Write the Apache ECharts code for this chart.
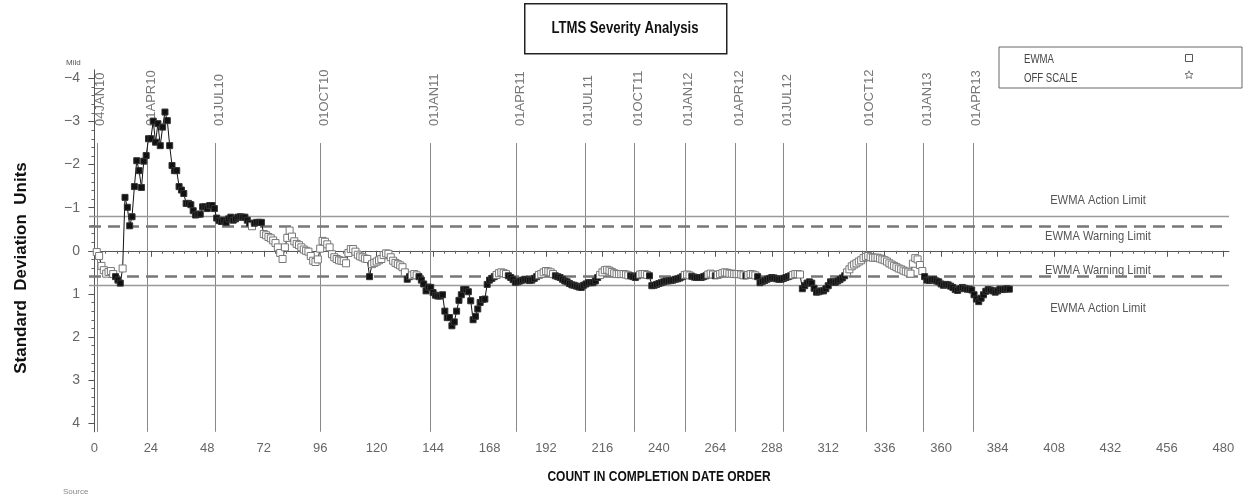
<!DOCTYPE html>
<html>
<head>
<meta charset="utf-8">
<script src="https://cdn.jsdelivr.net/npm/echarts@6/dist/echarts.min.js"></script>
<style>
  html, body { margin: 0; padding: 0; background: #fff; }
  #chart { width: 1246px; height: 495px; }
</style>
</head>
<body>
<div id="chart"></div>
<script>
// EWMA severity (standard deviation units), one value per test, in completion order
const ewma = [
  0.03, 0.12, 0.35, 0.45, 0.53, 0.49, 0.47, 0.54, 0.60, 0.68,
  0.75, 0.41, -1.24, -1.01, -0.58, -0.79, -1.49, -2.09, -1.86, -1.47,
  -2.08, -2.21, -2.60, -2.60, -3.01, -2.52, -2.95, -2.44, -2.87, -3.22,
  -3.02, -2.44, -1.98, -1.86, -1.86, -1.49, -1.41, -1.33, -1.10, -1.10,
  -1.07, -0.93, -0.83, -0.85, -0.85, -1.02, -1.02, -0.98, -1.05, -1.05,
  -0.98, -0.76, -0.70, -0.68, -0.71, -0.66, -0.74, -0.78, -0.71, -0.74,
  -0.78, -0.79, -0.78, -0.78, -0.71, -0.64, -0.57, -0.64, -0.66, -0.66,
  -0.66, -0.39, -0.36, -0.32, -0.29, -0.24, -0.18, -0.08, 0.05, 0.19,
  -0.08, -0.30, -0.47, -0.33, -0.22, -0.16, -0.13, -0.08, -0.03, 0.00,
  0.02, 0.12, 0.23, 0.26, 0.20, -0.05, -0.23, -0.21, -0.15, -0.08,
  0.08, 0.15, 0.19, 0.22, 0.23, 0.24, 0.29, 0.05, -0.04, -0.04,
  0.02, 0.09, 0.13, 0.15, 0.18, 0.19, 0.60, 0.31, 0.28, 0.25,
  0.22, 0.19, 0.10, 0.06, 0.07, 0.15, 0.23, 0.28, 0.31, 0.34,
  0.38, 0.50, 0.66, 0.60, 0.57, 0.54, 0.57, 0.60, 0.68, 0.77,
  0.93, 0.84, 0.85, 0.97, 1.03, 1.05, 1.05, 1.02, 1.40, 1.55,
  1.55, 1.74, 1.65, 1.40, 1.15, 1.02, 0.90, 0.90, 0.95, 1.16,
  1.60, 1.52, 1.35, 1.20, 1.13, 1.12, 0.78, 0.68, 0.64, 0.60,
  0.56, 0.52, 0.50, 0.52, 0.54, 0.58, 0.62, 0.67, 0.73, 0.72,
  0.70, 0.68, 0.66, 0.67, 0.69, 0.68, 0.64, 0.60, 0.56, 0.54,
  0.50, 0.47, 0.48, 0.50, 0.54, 0.58, 0.60, 0.62, 0.66, 0.70,
  0.72, 0.76, 0.79, 0.80, 0.82, 0.84, 0.85, 0.80, 0.77, 0.74,
  0.74, 0.74, 0.70, 0.62, 0.56, 0.50, 0.45, 0.44, 0.46, 0.49,
  0.52, 0.54, 0.54, 0.54, 0.54, 0.55, 0.57, 0.58, 0.60, 0.62,
  0.58, 0.55, 0.54, 0.54, 0.56, 0.58, 0.81, 0.80, 0.78, 0.76,
  0.74, 0.72, 0.70, 0.70, 0.69, 0.68, 0.66, 0.65, 0.63, 0.60,
  0.56, 0.55, 0.57, 0.59, 0.61, 0.62, 0.62, 0.62, 0.60, 0.58,
  0.55, 0.53, 0.55, 0.58, 0.56, 0.54, 0.52, 0.50, 0.51, 0.53,
  0.53, 0.54, 0.54, 0.54, 0.55, 0.57, 0.58, 0.56, 0.54, 0.55,
  0.57, 0.60, 0.74, 0.71, 0.69, 0.66, 0.64, 0.62, 0.63, 0.65,
  0.66, 0.66, 0.64, 0.62, 0.60, 0.58, 0.56, 0.54, 0.54, 0.55,
  0.88, 0.81, 0.75, 0.72, 0.75, 0.87, 0.96, 0.95, 0.93, 0.93,
  0.88, 0.81, 0.72, 0.72, 0.73, 0.70, 0.67, 0.63, 0.58, 0.50,
  0.43, 0.36, 0.32, 0.29, 0.25, 0.22, 0.17, 0.14, 0.12, 0.15,
  0.16, 0.16, 0.16, 0.18, 0.20, 0.22, 0.25, 0.29, 0.32, 0.35,
  0.38, 0.41, 0.43, 0.46, 0.48, 0.50, 0.53, 0.30, 0.17, 0.20,
  0.33, 0.47, 0.60, 0.68, 0.69, 0.67, 0.67, 0.70, 0.72, 0.77,
  0.80, 0.78, 0.79, 0.82, 0.85, 0.90, 0.92, 0.88, 0.85, 0.87,
  0.89, 0.89, 0.91, 1.02, 1.12, 1.18, 1.10, 1.02, 0.94, 0.90,
  0.91, 0.93, 0.96, 0.93, 0.89, 0.90, 0.89, 0.88, 0.89
];
const counts = ewma.map((_, i) => i + 1);

// Calendar reference lines: position in the count order and their labels
const dateCounts = [1, 22.5, 51.5, 96, 143, 179.5, 208.5, 229.5, 251, 272.5, 293, 328, 352.5, 373.5];
const dateLabels = ['04JAN10', '01APR10', '01JUL10', '01OCT10', '01JAN11', '01APR11', '01JUL11',
                    '01OCT11', '01JAN12', '01APR12', '01JUL12', '01OCT12', '01JAN13', '01APR13'];

// Axis ticks
const xTicks = [0, 24, 48, 72, 96, 120, 144, 168, 192, 216, 240, 264, 288, 312, 336, 360, 384, 408, 432, 456, 480];
const yTicks = [-4, -3, -2, -1, 0, 1, 2, 3, 4];

// EWMA control limits
const actionLimit = 0.8;
const warningLimit = 0.58;
const limitLabels = [
  { value: -actionLimit, text: 'EWMA Action Limit', dy: -16 },
  { value: -warningLimit, text: 'EWMA Warning Limit', dy: 11 },
  { value: warningLimit, text: 'EWMA Warning Limit', dy: -5 },
  { value: actionLimit, text: 'EWMA Action Limit', dy: 23 }
];

const X_MIN = -2.3, X_MAX = 482.4, Y_MIN = -4.2, Y_MAX = 4.2;
const SANS = "'Liberation Sans', Arial, sans-serif";

const xMinor = [];
for (let i = 0; i < xTicks.length - 1; i++) {
  for (let k = 1; k < 5; k++) xMinor.push(xTicks[i] + k * 4.8);
}
const yMinor = [];
for (let i = 0; i < yTicks.length - 1; i++) {
  for (let k = 1; k < 5; k++) yMinor.push(+(yTicks[i] + k * 0.2).toFixed(1));
}

// beyond the warning band the square is filled
const points = counts.map((c, i) => {
  const v = ewma[i];
  const beyond = Math.abs(v) > 0.57;
  return {
    value: [c, v],
    symbolSize: beyond ? 6 : 7,
    itemStyle: beyond
      ? { color: '#111', borderColor: '#333', borderWidth: 1 }
      : { color: '#fff', borderColor: '#777', borderWidth: 1 }
  };
});

function hLine(v) { return [{ coord: [X_MIN, v] }, { coord: [X_MAX, v] }]; }

// star outline for the legend
function starPoints(cx, cy, ro, ri) {
  const pts = [];
  for (let k = 0; k < 10; k++) {
    const r = k % 2 === 0 ? ro : ri;
    const a = -Math.PI / 2 + k * Math.PI / 5;
    pts.push([cx + r * Math.cos(a), cy + r * Math.sin(a)]);
  }
  return pts;
}

const chart = echarts.init(document.getElementById('chart'), null, { renderer: 'canvas' });

chart.setOption({
  animation: false,
  backgroundColor: '#fff',
  grid: { left: 89, right: 17, top: 69.8, bottom: 63.2 },
  xAxis: [
    {
      type: 'value', position: 'bottom', min: X_MIN, max: X_MAX,
      axisLine: { show: true, lineStyle: { color: '#555', width: 1 } },
      axisTick: { show: true, customValues: xTicks, length: 6, lineStyle: { color: '#555' } },
      axisLabel: { show: true, customValues: xTicks, margin: 10, color: '#666', fontSize: 13, fontFamily: SANS },
      splitLine: { show: false }
    },
    {
      type: 'value', position: 'bottom', min: X_MIN, max: X_MAX,
      axisLine: { show: false },
      axisTick: { show: true, customValues: xMinor, length: 3, lineStyle: { color: '#666' } },
      axisLabel: { show: false }, splitLine: { show: false }
    }
  ],
  yAxis: [
    {
      type: 'value', position: 'left', inverse: true, min: Y_MIN, max: Y_MAX,
      axisLine: { show: true, lineStyle: { color: '#555', width: 1 } },
      axisTick: { show: true, customValues: yTicks, length: 6, lineStyle: { color: '#555' } },
      axisLabel: {
        show: true, customValues: yTicks, margin: 9, color: '#666', fontSize: 14, fontFamily: SANS,
        formatter: (v) => (v < 0 ? '\u2212' + Math.abs(v) : String(v))
      },
      splitLine: { show: false }
    },
    {
      type: 'value', position: 'left', inverse: true, min: Y_MIN, max: Y_MAX,
      axisLine: { show: false },
      axisTick: { show: true, customValues: yMinor, length: 3, lineStyle: { color: '#666' } },
      axisLabel: { show: false }, splitLine: { show: false }
    }
  ],
  series: [
    {
      // calendar reference lines
      type: 'line', data: [], silent: true,
      markLine: {
        silent: true, symbol: 'none', animation: false, label: { show: false },
        lineStyle: { color: '#888', width: 1, type: 'solid' },
        data: dateCounts.map(c => [{ coord: [c, -2.5] }, { coord: [c, Y_MAX] }])
      }
    },
    {
      // action limits
      type: 'line', data: [], silent: true,
      markLine: {
        silent: true, symbol: 'none', animation: false, label: { show: false },
        lineStyle: { color: '#999', width: 1.3, type: 'solid' },
        data: [hLine(-actionLimit), hLine(actionLimit)]
      }
    },
    {
      // warning limits
      type: 'line', data: [], silent: true,
      markLine: {
        silent: true, symbol: 'none', animation: false, label: { show: false },
        lineStyle: { color: '#777', width: 2.5, type: [12, 7] },
        data: [hLine(-warningLimit), hLine(warningLimit)]
      }
    },
    {
      name: 'EWMA', type: 'line', data: points, z: 5,
      symbol: 'rect', showSymbol: true, clip: false,
      lineStyle: { color: '#111', width: 1 },
      itemStyle: { color: '#fff', borderColor: '#777' },
      emphasis: { disabled: true }
    }
  ]
});

// Text placed from the axes' own scales
const px = (c) => chart.convertToPixel({ xAxisIndex: 0 }, c);
const py = (v) => chart.convertToPixel({ yAxisIndex: 0 }, v);
const xMid = (px(X_MIN) + px(X_MAX)) / 2;
const yBottom = py(Y_MAX);

const graphics = [
  // title box
  { type: 'rect', left: 524, top: 3, shape: { width: 202, height: 50 },
    style: { fill: '#fff', stroke: '#222', lineWidth: 1.5 } },
  { type: 'text', x: 625, y: 29, scaleX: 0.82,
    style: { text: 'LTMS Severity Analysis', fill: '#111', font: "bold 16px " + SANS,
             textAlign: 'center', textVerticalAlign: 'middle' } },
  // legend box
  { type: 'rect', x: 999, y: 47, shape: { width: 243, height: 41 },
    style: { fill: 'none', stroke: '#666', lineWidth: 1 } },
  { type: 'text', x: 1024, y: 60, scaleX: 0.8,
    style: { text: 'EWMA', fill: '#444', font: "12px " + SANS, textVerticalAlign: 'middle' } },
  { type: 'text', x: 1024, y: 79, scaleX: 0.8,
    style: { text: 'OFF SCALE', fill: '#444', font: "12px " + SANS, textVerticalAlign: 'middle' } },
  { type: 'rect', x: 1185.5, y: 54.5, shape: { width: 7, height: 7 },
    style: { fill: 'none', stroke: '#555', lineWidth: 1 } },
  { type: 'polygon', shape: { points: starPoints(1189, 75, 4.2, 1.9) },
    style: { fill: 'none', stroke: '#555', lineWidth: 0.8 } },
  // axis annotations
  { type: 'text', x: 66, y: 63,
    style: { text: 'Mild', fill: '#555', font: "8px " + SANS, textVerticalAlign: 'middle' } },
  { type: 'text', x: 63, y: 492,
    style: { text: 'Source', fill: '#888', font: "8px " + SANS, textVerticalAlign: 'middle' } },
  { type: 'text', x: 21, y: 268, rotation: Math.PI / 2,
    style: { text: 'Standard  Deviation  Units', fill: '#111', font: "bold 17px " + SANS,
             textAlign: 'center', textVerticalAlign: 'middle' } },
  { type: 'text', x: xMid, y: yBottom + 45, scaleX: 0.8,
    style: { text: 'COUNT IN COMPLETION DATE ORDER', fill: '#111', font: "bold 15px " + SANS,
             textAlign: 'center', textVerticalAlign: 'middle' } }
];

// calendar labels, reading upward, just right of each reference line
dateCounts.forEach((c, i) => {
  graphics.push({
    type: 'text', x: px(c) + 4, y: 126, rotation: Math.PI / 2,
    style: { text: dateLabels[i], fill: '#777', font: "13px " + SANS,
             textAlign: 'left', textVerticalAlign: 'middle' }
  });
});

// limit labels
limitLabels.forEach((l) => {
  graphics.push({
    type: 'text', x: 1098, y: py(l.value) + l.dy, scaleX: 0.86,
    style: { text: l.text, fill: '#555', font: "13px " + SANS,
             textAlign: 'center', textVerticalAlign: 'middle' }
  });
});

chart.setOption({ graphic: graphics });
</script>
</body>
</html>
